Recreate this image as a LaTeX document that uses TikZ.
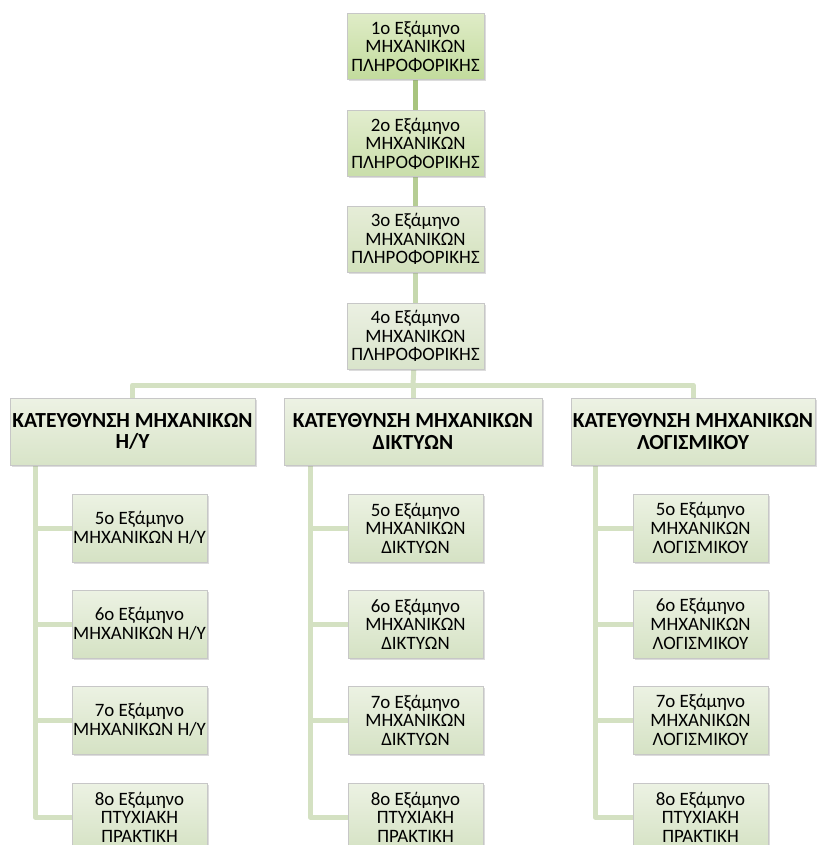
\documentclass[tikz,border=0pt]{standalone}
\usepackage{fontspec}
\setmainfont{Carlito}
\usetikzlibrary{shadows}
\pgfdeclarelayer{bg}
\pgfsetlayers{bg,main}
\definecolor{lnA}{HTML}{A8C47E}
\definecolor{lnB}{HTML}{B6CD94}
\definecolor{lnC}{HTML}{C6D8AE}
\definecolor{lnD}{HTML}{D4E1C2}
\definecolor{dirtop}{HTML}{EDF2E4}
\definecolor{dirbot}{HTML}{D8E4C8}
\definecolor{kidtop}{HTML}{ECF2E3}
\definecolor{kidbot}{HTML}{D5E2C4}
\begin{document}
\begin{tikzpicture}[x=1pt,y=-1pt,
  basebox/.style={draw=black!22, line width=0.6pt, shading=axis, shading angle=0,
    drop shadow={opacity=0.28, shadow xshift=1.5pt, shadow yshift=-2pt},
    align=center, inner sep=0pt, font=\fontsize{18.9}{18.6}\selectfont},
  sembox/.style={basebox, minimum width=137pt, minimum height=66pt},
  dirbox/.style={basebox, minimum height=67pt, font=\bfseries\fontsize{21.5}{21.5}\selectfont,
    top color=dirtop, bottom color=dirbot},
  kidbox/.style={basebox, minimum width=135pt, minimum height=68pt,
    top color=kidtop, bottom color=kidbot},
  conn/.style={draw=lnD, line width=5pt, line join=round}
]
\useasboundingbox (0,0) rectangle (817,845);

% top semesters
\node[sembox, top color={rgb,255:red,223;green,236;blue,199}, bottom color={rgb,255:red,194;green,219;blue,156}] (s1) at (415.5,46.5)
  {1o Εξάμηνο\\ΜΗΧΑΝΙΚΩΝ\\ΠΛΗΡΟΦΟΡΙΚΗΣ};
\node[sembox, top color={rgb,255:red,226;green,237;blue,206}, bottom color={rgb,255:red,201;green,222;blue,170}] (s2) at (415.5,143.5)
  {2o Εξάμηνο\\ΜΗΧΑΝΙΚΩΝ\\ΠΛΗΡΟΦΟΡΙΚΗΣ};
\node[sembox, top color={rgb,255:red,230;green,237;blue,216}, bottom color={rgb,255:red,210;green,225;blue,188}] (s3) at (415.5,239)
  {3o Εξάμηνο\\ΜΗΧΑΝΙΚΩΝ\\ΠΛΗΡΟΦΟΡΙΚΗΣ};
\node[sembox, top color={rgb,255:red,235;green,240;blue,226}, bottom color={rgb,255:red,217;green,228;blue,203}] (s4) at (415.5,336)
  {4o Εξάμηνο\\ΜΗΧΑΝΙΚΩΝ\\ΠΛΗΡΟΦΟΡΙΚΗΣ};

% directions
\node[dirbox, minimum width=245pt] (hL) at (132.5,431.5) {ΚΑΤΕΥΘΥΝΣΗ ΜΗΧΑΝΙΚΩΝ\\Η/Υ};
\node[dirbox, minimum width=258pt] (hM) at (413,431.5) {ΚΑΤΕΥΘΥΝΣΗ ΜΗΧΑΝΙΚΩΝ\\ΔΙΚΤΥΩΝ};
\node[dirbox, minimum width=244pt] (hR) at (693,431.5) {ΚΑΤΕΥΘΥΝΣΗ ΜΗΧΑΝΙΚΩΝ\\ΛΟΓΙΣΜΙΚΟΥ};

% left children
\node[kidbox] (l5) at (139.5,528) {5o Εξάμηνο\\ΜΗΧΑΝΙΚΩΝ Η/Υ};
\node[kidbox] (l6) at (139.5,624) {6o Εξάμηνο\\ΜΗΧΑΝΙΚΩΝ Η/Υ};
\node[kidbox] (l7) at (139.5,720) {7o Εξάμηνο\\ΜΗΧΑΝΙΚΩΝ Η/Υ};
\node[kidbox] (l8) at (139.5,817) {8o Εξάμηνο\\ΠΤΥΧΙΑΚΗ\\ΠΡΑΚΤΙΚΗ};

% middle children
\node[kidbox] (m5) at (415.5,528) {5o Εξάμηνο\\ΜΗΧΑΝΙΚΩΝ\\ΔΙΚΤΥΩΝ};
\node[kidbox] (m6) at (415.5,624) {6o Εξάμηνο\\ΜΗΧΑΝΙΚΩΝ\\ΔΙΚΤΥΩΝ};
\node[kidbox] (m7) at (415.5,720) {7o Εξάμηνο\\ΜΗΧΑΝΙΚΩΝ\\ΔΙΚΤΥΩΝ};
\node[kidbox] (m8) at (415.5,817) {8o Εξάμηνο\\ΠΤΥΧΙΑΚΗ\\ΠΡΑΚΤΙΚΗ};

% right children
\node[kidbox] (r5) at (700.5,528) {5o Εξάμηνο\\ΜΗΧΑΝΙΚΩΝ\\ΛΟΓΙΣΜΙΚΟΥ};
\node[kidbox] (r6) at (700.5,624) {6o Εξάμηνο\\ΜΗΧΑΝΙΚΩΝ\\ΛΟΓΙΣΜΙΚΟΥ};
\node[kidbox] (r7) at (700.5,720) {7o Εξάμηνο\\ΜΗΧΑΝΙΚΩΝ\\ΛΟΓΙΣΜΙΚΟΥ};
\node[kidbox] (r8) at (700.5,817) {8o Εξάμηνο\\ΠΤΥΧΙΑΚΗ\\ΠΡΑΚΤΙΚΗ};

\coordinate (bar) at (413,385);
\coordinate (tL) at (35,465);
\coordinate (tM) at (310,465);
\coordinate (tR) at (595,465);

\begin{pgfonlayer}{bg}
  \draw[conn, draw=lnA] (s1) -- (s2);
  \draw[conn, draw=lnB] (s2) -- (s3);
  \draw[conn, draw=lnC] (s3) -- (s4);
  \draw[conn] (s4) -- (bar);
  \draw[conn] (hL) |- (bar) -| (hR);
  \draw[conn] (bar) -- (hM);
  \foreach \t/\c in {tL/l, tM/m, tR/r}{
    \draw[conn] (\t) |- (\c8.west);
    \draw[conn] (\t |- \c5.west) -- (\c5.west);
    \draw[conn] (\t |- \c6.west) -- (\c6.west);
    \draw[conn] (\t |- \c7.west) -- (\c7.west);
  }
\end{pgfonlayer}
\end{tikzpicture}
\end{document}
